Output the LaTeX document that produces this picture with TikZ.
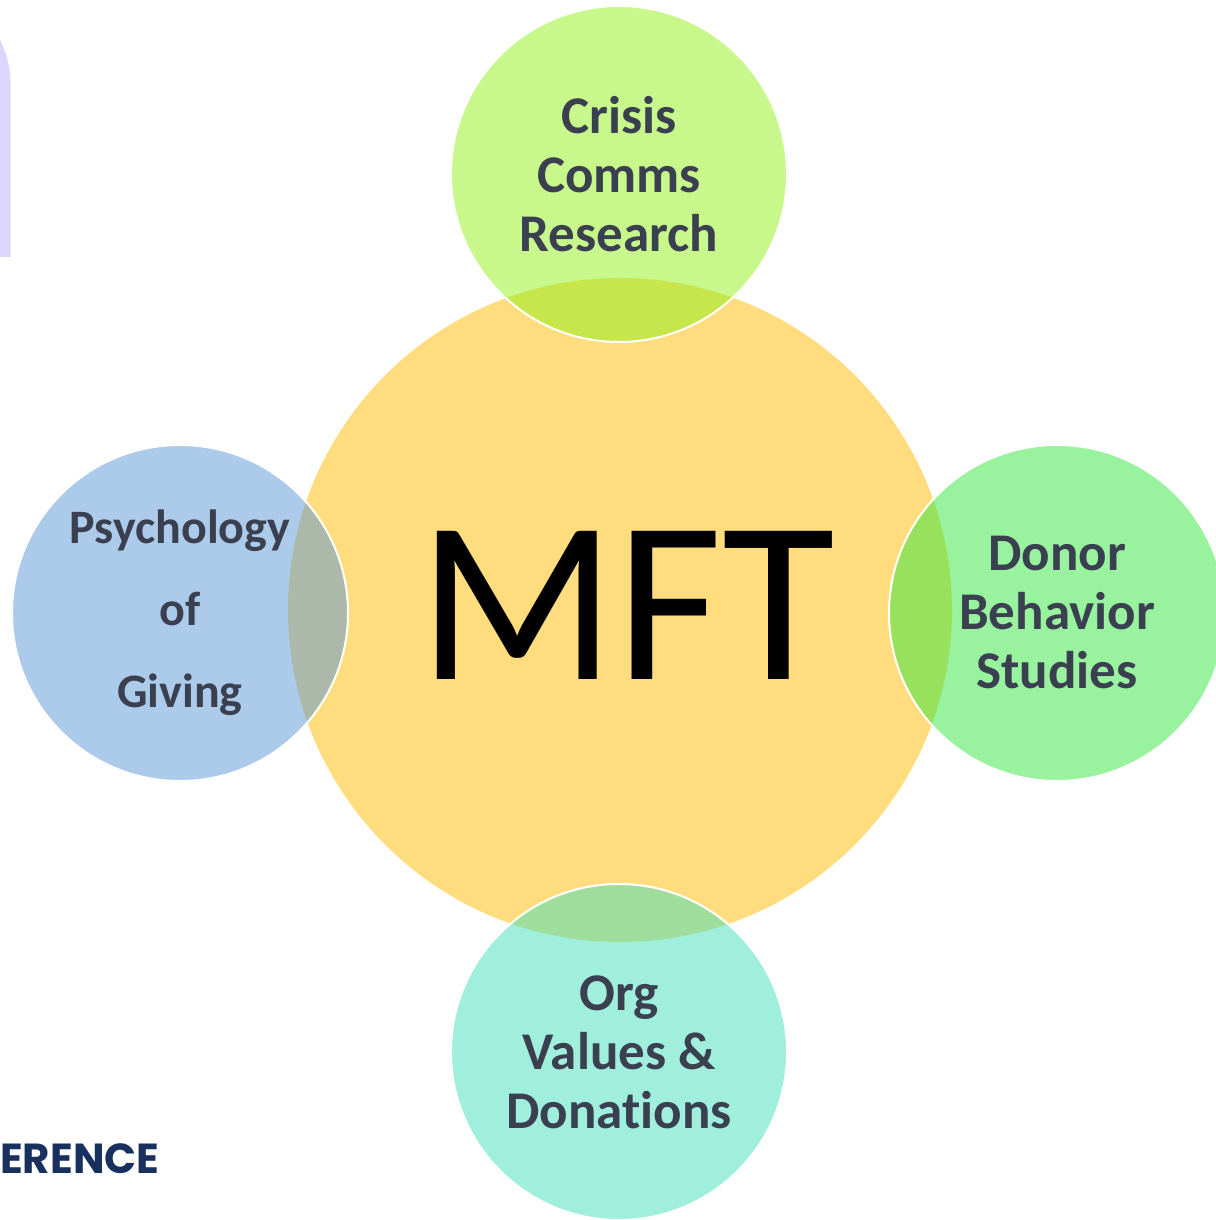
\documentclass[tikz,border=0pt]{standalone}
\usepackage{fontspec}
\setmainfont{Carlito}[Ligatures=NoCommon]
\newfontfamily\bannerfont{Poppins}
\definecolor{HubYellow}{HTML}{FFDD7F}
\definecolor{CrisisGreen}{HTML}{91EF19}
\definecolor{GivingBlue}{HTML}{5A95D4}
\definecolor{DonorGreen}{HTML}{31E53D}
\definecolor{OrgTeal}{HTML}{41DDB9}
\definecolor{SlateText}{HTML}{3A4050}
\definecolor{BannerNavy}{HTML}{17305E}
\definecolor{TabLavender}{HTML}{DCD6FF}
\tikzset{
  hubcircle/.style={circle, fill=HubYellow, minimum size=664pt, inner sep=0pt},
  hublabel/.style={inner sep=0pt, font=\fontsize{231}{231}\selectfont},
  topiccircle/.style={circle, draw=white, line width=2pt, fill=#1,
                fill opacity=0.5, text opacity=1, minimum size=336pt,
                inner sep=0pt, align=center, text=SlateText,
                font=\fontsize{53}{59}\bfseries\selectfont},
}

\begin{document}
\begin{tikzpicture}[x=1pt, y=1pt]
    % Coordinate map (1 unit = 1pt, origin bottom left):
    % (hub)     at (620, 610)  — 664pt circle — "MFT"
    % (crisis)  at (619, 1046) — 336pt circle, top
    % (giving)  at (180, 607)  — 336pt circle, left
    % (donor)   at (1057, 607) — 336pt circle, right (runs off the edge)
    % (org)     at (619, 168)  — 336pt circle, bottom
    \useasboundingbox (0, 0) rectangle (1215, 1220);

    % lavender tab on the left edge
    \fill[TabLavender] (-100, 963) -- (10.7, 963) -- (10.7, 1135)
        arc[start angle=0, end angle=90, radius=100] -- cycle;

    \node[hubcircle] (hub) at (620, 610) {};
    \node[hublabel] (hubname) at (627, 615) {MFT};

    \node[topiccircle=CrisisGreen] (crisis) at (619, 1046) {Crisis\\Comms\\Research};
    \node[topiccircle=GivingBlue, font=\fontsize{48}{82}\bfseries\selectfont]
        (giving) at (180, 607) {Psychology\\of\\Giving};
    \node[topiccircle=DonorGreen] (donor) at (1057, 607) {Donor\\Behavior\\Studies};
    \node[topiccircle=OrgTeal] (org) at (619, 168) {Org\\Values \&\\Donations};

    \node[anchor=base west, inner sep=0pt, text=BannerNavy,
          font=\bannerfont\fontsize{42}{42}\bfseries\selectfont]
        (banner) at (0, 46) {ERENCE};
\end{tikzpicture}
\end{document}
